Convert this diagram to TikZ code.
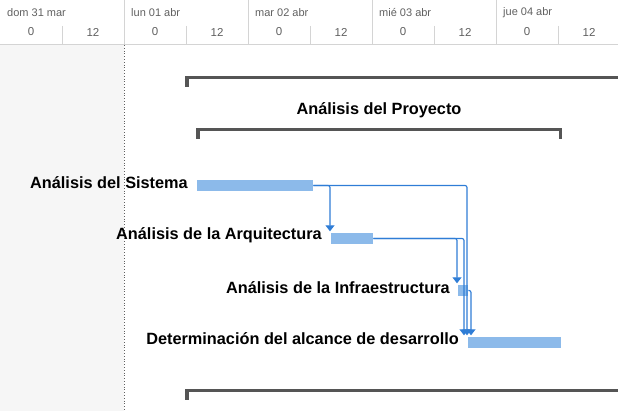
\documentclass[tikz,border=0pt]{standalone}
\usepackage{fontspec}
\setmainfont{Liberation Sans}
\usetikzlibrary{arrows.meta,positioning}
\definecolor{headtext}{HTML}{606060}
\definecolor{headline}{HTML}{D4D4D4}
\definecolor{panel}{HTML}{F6F6F6}
\definecolor{summary}{HTML}{555555}
\definecolor{barfill}{HTML}{8CBAEA}
\definecolor{linkblue}{HTML}{2F7DD6}
\tikzset{
  daylabel/.style={anchor=west, text=headtext, font=\fontsize{11}{12}\selectfont, inner sep=0pt},
  hourlabel/.style={text=headtext, font=\fontsize{11.5}{12}\selectfont, inner sep=0pt},
  taskbar/.style={fill=barfill, draw=none, minimum height=11pt, inner sep=0pt, anchor=west},
  tasklabel/.style={anchor=east, font=\bfseries\fontsize{16.3}{17}\selectfont, inner sep=0pt},
  link/.style={draw=linkblue, line width=1.2pt, rounded corners=2pt, -{Triangle[width=9pt,length=6pt]}}
}
\begin{document}
\begin{tikzpicture}[x=1pt,y=-1pt]
\useasboundingbox (0,0) rectangle (618,411);
% header
\fill[panel] (0,45) rectangle (123.5,411);
\draw[headline] (0,44.5) -- (618,44.5);
\foreach \x in {124,248,372,496}
  \draw[headline] (\x,0) -- (\x,44.5);
\foreach \x in {62,186,310,434,558}
  \draw[headline] (\x,26) -- (\x,44.5);
\foreach \d [count=\i from 0] in {dom 31 mar,lun 01 abr,mar 02 abr,mié 03 abr,jue 04 abr}
  \node[daylabel] (day\i) at (124*\i+7,12.5) {\d};
\foreach \i in {0,...,4} {
  \node[hourlabel] (h\i a) at (124*\i+31,32) {0};
  \node[hourlabel] (h\i b) at (124*\i+93,32) {12};
}
\draw[headtext, dotted, line width=0.8pt] (124,45) -- (124,411);
% summary brackets
\fill[summary] (185,76.5) rectangle (618,79.5);
\fill[summary] (185,76.5) rectangle (188.5,87.5);
\node[font=\bfseries\fontsize{16.3}{17}\selectfont] (proyecto) at (379,110) {Análisis del Proyecto};
\fill[summary] (196,128.5) rectangle (562,131.5);
\fill[summary] (196,128.5) rectangle (199.5,139.5);
\fill[summary] (558.5,128.5) rectangle (562,139.5);
\fill[summary] (185,389) rectangle (618,392);
\fill[summary] (185,389) rectangle (188.5,400);
% tasks
\node[taskbar, minimum width=116pt] (sistema) at (197,185.5) {};
\node[taskbar, minimum width=42pt] (arquitectura) at (331,238.5) {};
\node[taskbar, minimum width=10pt] (infra) at (458,290.5) {};
\node[taskbar, minimum width=93pt] (alcance) at (468,342.5) {};
\node[tasklabel, left=9pt of sistema.west, yshift=3pt] (lsistema) {Análisis del Sistema};
\node[tasklabel, left=9pt of arquitectura.west, yshift=3pt] (larquitectura) {Análisis de la Arquitectura};
\node[tasklabel, left=8pt of infra.west, yshift=3pt] (linfra) {Análisis de la Infraestructura};
\node[tasklabel, left=9pt of alcance.west, yshift=4pt] (lalcance) {Determinación del alcance de desarrollo};
% links
\draw[link, shorten >=1.5pt] (sistema.east) -| ([xshift=-1pt]arquitectura.north west);
\draw[link, shorten >=1.5pt] (sistema.east) -| ([xshift=-1pt]alcance.north west);
\draw[link, shorten >=1.5pt] (arquitectura.east) -| ([xshift=-1pt]infra.north west);
\draw[link, shorten >=1.5pt] (arquitectura.east) -| ([xshift=-4pt]alcance.north west);
\draw[link, shorten >=1.5pt] (infra.east) -| ([xshift=3pt]alcance.north west);
\end{tikzpicture}
\end{document}
